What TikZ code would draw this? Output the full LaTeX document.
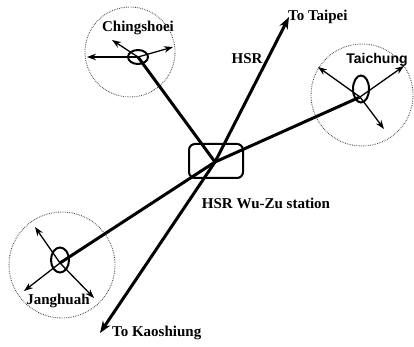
\documentclass[tikz,border=0pt]{standalone}
\usepackage{fontspec}
\setmainfont{Liberation Serif}
\newfontfamily\sansb{Liberation Sans}
\usetikzlibrary{shapes.geometric,arrows.meta}
\tikzset{
  lbl/.style={font=\fontsize{15}{17}\selectfont\bfseries, inner sep=0pt},
  thickln/.style={line width=3pt, draw=black},
  hsrarrow/.style={thickln, {Stealth[length=12pt,width=9pt]}-{Stealth[length=12pt,width=9pt]}},
  thinarrow/.style={line width=1.3pt, -{Stealth[length=9pt,width=6.5pt]}},
  town/.style={ellipse, draw, line width=2pt, inner sep=0pt},
  zone/.style={circle, draw=black!75, line width=0.9pt, dash pattern=on 0.7pt off 1.1pt, inner sep=0pt},
  stationbox/.style={rectangle, rounded corners=6pt, draw, line width=2pt, minimum width=54pt, minimum height=34pt}
}
\begin{document}
\begin{tikzpicture}[x=1pt,y=-1pt]
\useasboundingbox (0,0) rectangle (414,347);
% zones
\node[zone, minimum size=90pt] (zc) at (130,52) {};
\node[zone, minimum size=102pt] (zt) at (362,95) {};
\node[zone, minimum size=106pt] (zj) at (62,265) {};
% station
\node[stationbox] (st) at (216,161) {};
\coordinate (X) at (215,162);
% towns
\node[town, minimum width=20pt, minimum height=14pt] (ch) at (138,57) {};
\node[town, minimum width=16pt, minimum height=27pt] (tc) at (361,89) {};
\node[town, minimum width=18pt, minimum height=25pt] (jh) at (60,260) {};
\coordinate (chh) at (138,57);
\coordinate (tch) at (360,97);
\coordinate (jhh) at (60,263);
% arrow ends
\coordinate (taipei) at (289,17);
\coordinate (kao) at (100,333);
\coordinate (ch1) at (87,57);
\coordinate (ch2) at (112,40);
\coordinate (ch3) at (173,47);
\coordinate (tc1) at (318,67);
\coordinate (tc2) at (404,66);
\coordinate (tc3) at (384,129);
\coordinate (jh1) at (35,227);
\coordinate (jh2) at (24,291);
\coordinate (jh3) at (94,298);
% thick lines
\draw[thickln] (chh) -- (X);
\draw[thickln] (jhh) -- (X) -- (tch);
\draw[hsrarrow] (kao) -- (X) -- (taipei);
% thin arrows
\draw[thinarrow] (chh) -- (ch1);
\draw[thinarrow] (chh) -- (ch2);
\draw[thinarrow] (chh) -- (ch3);
\draw[thinarrow] (tch) -- (tc1);
\draw[thinarrow] (tch) -- (tc2);
\draw[thinarrow] (tch) -- (tc3);
\draw[thinarrow] (jhh) -- (jh1);
\draw[thinarrow] (jhh) -- (jh2);
\draw[thinarrow] (jhh) -- (jh3);
% labels
\node[lbl] (lch) at (138,28) {Chingshoei};
\node[lbl, font=\fontsize{14}{16}\selectfont\sansb\bfseries] (ltc) at (377,60) {Taichung};
\node[lbl] (ljh) at (58,301) {Janghuah};
\node[lbl] (lhsr) at (247,59) {HSR};
\node[lbl, anchor=west] (ltp) at (288,17) {To Taipei};
\node[lbl, anchor=west] (lks) at (112,333) {To Kaoshiung};
\node[lbl] (lst) at (266,203) {HSR Wu-Zu station};
\end{tikzpicture}
\end{document}
